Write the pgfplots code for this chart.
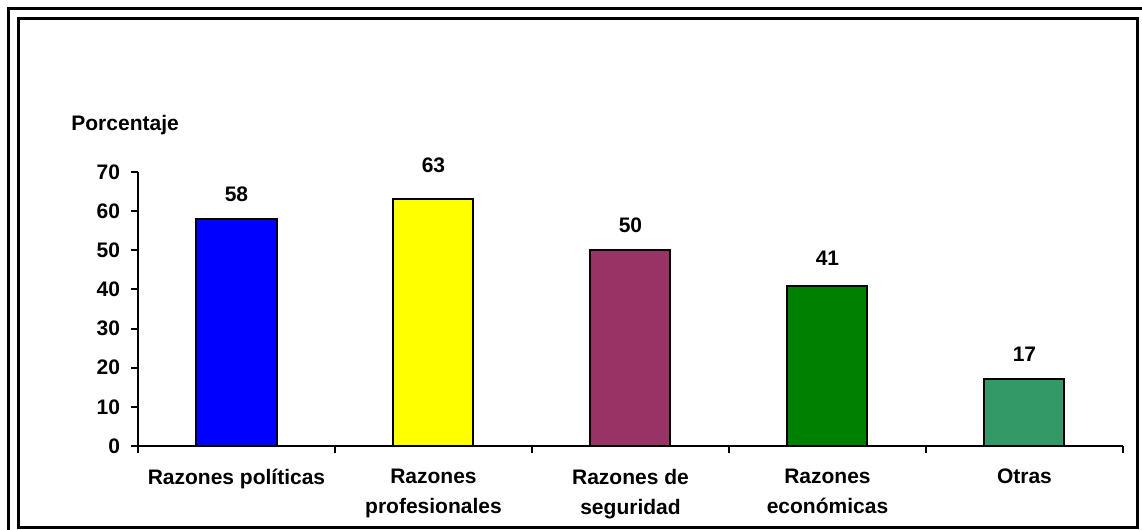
\documentclass[border=0pt]{standalone}
\usepackage{pgfplots}
\pgfplotsset{compat=1.18}
\usepackage{fontspec}
\setmainfont{Liberation Sans}
\definecolor{cblue}{HTML}{0000FF}
\definecolor{cyellow}{HTML}{FFFF00}
\definecolor{cpurple}{HTML}{993366}
\definecolor{cgreen}{HTML}{008000}
\definecolor{csea}{HTML}{339966}
\begin{document}
\begin{tikzpicture}
\path[use as bounding box] (0,0) rectangle (571pt,265pt);
\draw[line width=1.5pt] (4pt,0) -- (4pt,260.5pt) -- (571pt,260.5pt);
\draw[line width=1.5pt] (9pt,1pt) rectangle (568.5pt,255.5pt);
\node[anchor=west, font=\bfseries\fontsize{10.5}{12}\selectfont, inner sep=0pt] at (35.5pt,202.5pt) {Porcentaje};
\begin{axis}[
  at={(69pt,42pt)}, anchor=south west,
  scale only axis, width=492.5pt, height=137pt,
  xmin=-0.5, xmax=4.5, ymin=0, ymax=70,
  axis x line*=bottom, axis y line*=left,
  axis line style={line width=1pt, -},
  ytick={0,10,...,70},
  xtick={-0.5,0.5,1.5,2.5,3.5,4.5},
  xticklabels={},
  extra x ticks={0,1,2,3,4},
  extra x tick labels={Razones políticas,{Razones\\profesionales},{Razones de\\seguridad},{Razones\\económicas},Otras},
  extra x tick style={major tick length=0pt},
  tick align=outside,
  major tick length=3.5pt,
  tick style={line width=1pt, black},
  /pgf/number format/assume math mode=true,
  ticklabel style={font=\bfseries\fontsize{10.5}{12}\selectfont},
  yticklabel style={xshift=-2pt},
  xticklabel style={align=center, font=\bfseries\fontsize{10.5}{15}\selectfont, yshift=-8pt},
  ybar, bar shift=0pt, bar width=40pt,
  nodes near coords,
  nodes near coords style={font=\bfseries\fontsize{10.5}{12}\selectfont, yshift=5pt, black},
  every axis plot/.append style={draw=black, line width=1pt},
  clip=false,
]
\addplot[fill=cblue] coordinates {(0,58)};
\addplot[fill=cyellow, nodes near coords style={yshift=4.5pt}] coordinates {(1,63)};
\addplot[fill=cpurple] coordinates {(2,50)};
\addplot[fill=cgreen, nodes near coords style={yshift=1pt}] coordinates {(3,41)};
\addplot[fill=csea] coordinates {(4,17)};
\end{axis}
\end{tikzpicture}
\end{document}
